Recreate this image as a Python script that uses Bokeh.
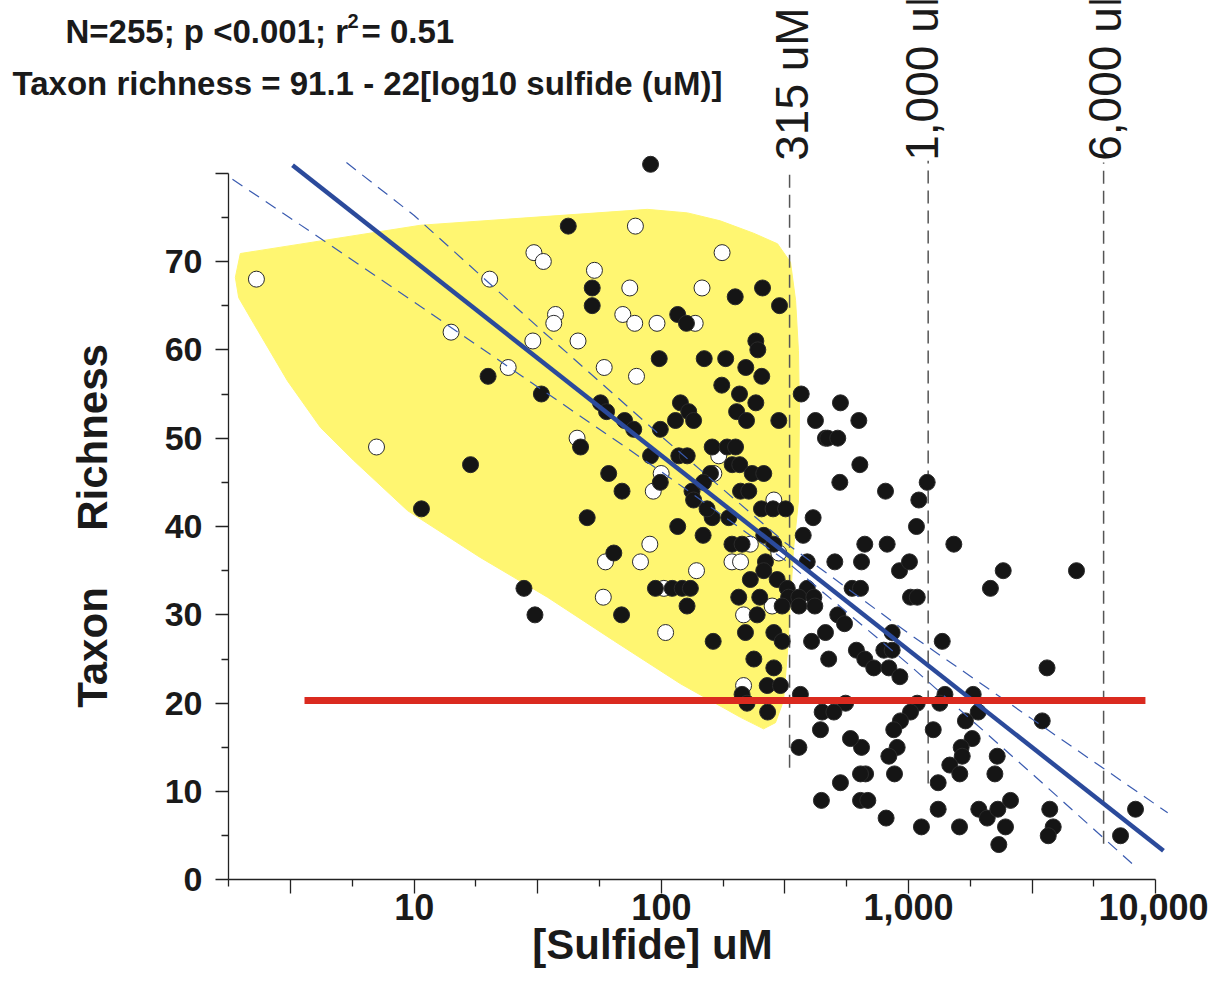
import math
from bokeh.plotting import figure
from bokeh.models import Range1d, FixedTicker, Label
from bokeh.embed import file_html
from bokeh.resources import INLINE

# ---------------- data ----------------
open_sulfide = [2.30, 20.2, 30.5, 33.3, 53.6, 78.5, 74.5, 146, 176, 37.3,
                36.7, 69.8, 78, 96, 137, 30.2, 46, 14.1, 24, 58.7,
                79.3, 7.04, 45.6, 99.8, 92.7, 89.8, 170.6, 163, 285, 229,
                298.5, 193, 209, 138.7, 280.5, 215, 215, 59.4, 82.3, 102.3,
                58.2, 104]
open_richness = [68, 68, 71, 70, 69, 74, 67, 67, 71, 64,
                 63, 64, 63, 63, 63, 61, 61, 62, 58, 58,
                 57, 49, 50, 46, 44, 38, 48, 46, 43, 38,
                 37, 36, 36, 35, 31, 30, 22, 36, 36, 33,
                 32, 28]

filled_sulfide = [90.4, 42, 52.5, 52.5, 116.4, 126.3, 98, 149, 182, 19.9,
                  32.7, 56.7, 60, 119.4, 129, 135, 114, 71, 77.3, 99,
                  160.5, 47.1, 90.4, 117.6, 127.2, 16.9, 61.2, 69.3, 99, 133,
                  135, 158, 148, 160.5, 50.1, 116.4, 147.5, 10.7, 64.2, 198.9,
                  256.5, 300.5, 241, 245.5, 219.5, 254.7, 175.5, 207, 241, 367.8,
                  201.5, 221, 298.5, 420, 184.5, 199.5, 193.4, 207.5, 233, 259.5,
                  209, 225.7, 254, 283, 318, 153, 187.4, 193, 212, 259.5,
                  285, 263.6, 259.5, 229, 294, 389, 389, 323, 327, 94.6,
                  110.6, 121.4, 131, 127, 205.5, 250, 308, 244, 359.8, 413.7,
                  218.8, 285, 308, 162, 405, 236.6, 285, 212, 268, 303,
                  222, 269, 365, 69, 27.8, 30.8, 461, 411, 374.7, 417.5,
                  360, 461, 475, 447, 440, 360, 530, 629, 471, 517,
                  635, 527, 806.5, 1189, 1100, 1076, 1524, 665, 819, 2414,
                  4777, 2143, 919, 1008, 503, 645, 591, 639, 1018, 1084,
                  517, 550.5, 858, 615, 665, 723, 794, 858, 832, 922,
                  1368, 3631, 556, 498.6, 1084, 1403, 1825, 1337, 1912, 1698,
                  1018, 927, 871, 1258, 899, 832, 645, 582, 3472, 1808,
                  1632, 1648, 1468, 1611, 2283, 2234, 1317, 877, 670, 639,
                  530, 444, 639, 684, 811, 1127, 1317, 1607, 1923, 2080,
                  2296, 2584, 2466, 2317, 3724, 3846, 3672, 8279, 7200]
filled_richness = [81, 74, 67, 65, 64, 63, 59, 59, 59, 57,
                   55, 54, 53, 54, 53, 52, 52, 52, 51, 51,
                   49, 49, 48, 48, 48, 47, 46, 44, 45, 44,
                   43, 46, 45, 41, 41, 40, 39, 42, 37, 66,
                   67, 65, 61, 60, 58, 57, 56, 55, 54, 55,
                   53, 52, 52, 52, 49, 49, 47, 47, 46, 46,
                   44, 44, 42, 42, 42, 42, 41, 38, 38, 39,
                   38, 36, 35, 34, 34, 36, 33, 33, 32, 33,
                   33, 33, 33, 31, 32, 32, 31, 30, 32, 32,
                   28, 28, 27, 27, 27, 25, 24, 21, 22, 22,
                   20, 19, 21, 30, 33, 30, 50, 41, 39, 31,
                   31, 28, 25, 19, 17, 15, 54, 52, 50, 50,
                   47, 45, 44, 45, 43, 40, 38, 38, 38, 35,
                   35, 33, 35, 36, 36, 36, 33, 33, 32, 32,
                   30, 29, 28, 26, 25, 24, 26, 26, 24, 23,
                   27, 24, 20, 19, 20, 21, 21, 20, 19, 18,
                   19, 18, 17, 17, 15, 14, 15, 16, 18, 16,
                   15, 14, 13, 12, 14, 12, 11, 12, 12, 12,
                   11, 9, 9, 9, 7, 6, 8, 6, 8, 7,
                   8, 9, 6, 4, 8, 6, 5, 8, 5]

# highlighted (yellow) region outline
hull_sulfide = [1.98, 10.6, 87.8, 127.5, 173, 236, 295, 333, 349, 358.5,
                362, 358.5, 342, 324, 312, 289.5, 259, 209, 119.5, 64.0,
                34.6, 18.5, 9.4, 5.68, 4.18, 3.07, 2.24, 1.95, 1.89]
hull_richness = [70.9, 74.1, 75.9, 75.5, 74.6, 73.2, 72.0, 69.9, 65.6, 59.9,
                 53.1, 42.9, 37.3, 26.0, 20.3, 17.8, 17.1, 18.4, 22.2, 27.1,
                 32.0, 36.5, 41.8, 47.5, 51.2, 56.5, 63.0, 65.9, 68.2]

# regression line and confidence band
fit_sulfide = [3.22, 10740]
fit_richness = [80.9, 3.3]
upper_sulfide = [5.32, 10, 31.6, 100, 316, 1000, 3162, 11170]
upper_richness = [81.2, 75.2, 62.6, 50.2, 38.2, 27.9, 18.2, 7.6]
lower_sulfide = [1.84, 3.16, 10, 31.6, 100, 316, 1000, 3162, 8433]
lower_richness = [79.3, 74.9, 65.4, 55.8, 46.2, 36.2, 24.4, 12.0, 1.3]

# threshold (red) line
threshold_sulfide = [3.6, 9080]
threshold_richness = [20.3, 20.3]

# vertical sulfide markers
marker_sulfide = [330, 1200, 6150]
marker_labels = ["315 uM", "1,000 uM", "6,000 uM"]
marker_top = [80.5, 81.4, 81.2]
marker_bottom = [12.7, 10.9, 4.1]

x_label_values = [10, 100, 1000, 10000]
x_label_texts = ["10", "100", "1,000", "10,000"]
y_label_values = [0, 10, 20, 30, 40, 50, 60, 70]

title_line1 = "N=255; p <0.001; r"
title_sup = "2"
title_line1b = " = 0.51"
title_line2 = "Taxon richness = 91.1 - 22[log10 sulfide (uM)]"
x_title = "[Sulfide] uM"
y_title_parts = ["Taxon", "Richness"]

# ---------------- figure ----------------
FONT = "Liberation Sans"
W, H = 1208, 972
X0 = 10 ** 0.2488          # left end of the sulfide axis
p = figure(width=W, height=H, x_axis_type="log",
           x_range=Range1d(10 ** -0.6735, 10 ** 4.2132),
           y_range=Range1d(-10.48, 99.54),
           output_backend="svg", toolbar_location=None,
           min_border_left=0, min_border_right=0,
           min_border_top=0, min_border_bottom=0)
p.outline_line_color = None
p.xgrid.visible = False
p.ygrid.visible = False
p.background_fill_color = "white"
p.border_fill_color = "white"

# yellow region
p.patch(hull_sulfide, hull_richness, fill_color="#FFF671", line_color="#FFF671",
        line_width=1)

# vertical dashed markers
for xs, yt, yb in zip(marker_sulfide, marker_top, marker_bottom):
    p.line([xs, xs], [yb, yt], line_color="#555555", line_width=1.5,
           line_dash="13 7")

# points
p.scatter(open_sulfide, open_richness, size=16, marker="circle",
          fill_color="white", line_color="#2a2a2a", line_width=1)
p.scatter(filled_sulfide, filled_richness, size=16, marker="circle",
          fill_color="#151515", line_color="#2a2a2a", line_width=1)

# confidence band and regression line
p.line(upper_sulfide, upper_richness, line_color="#3a5bb0", line_width=1.2,
       line_dash="12 8")
p.line(lower_sulfide, lower_richness, line_color="#3a5bb0", line_width=1.2,
       line_dash="12 8")
p.line(fit_sulfide, fit_richness, line_color="#2B4A9B", line_width=4.5)

# threshold line
p.line(threshold_sulfide, threshold_richness, line_color="#DA2A1F", line_width=7)

# ---------------- axes (drawn at fixed data locations) ----------------
x_major = [10 ** 0.5, 10, 10 ** 1.5, 100, 10 ** 2.5, 1000, 10 ** 3.5, 10000]
x_minor = [10 ** 0.25, 10 ** 0.75, 10 ** 1.25, 10 ** 1.75, 10 ** 2.25,
           10 ** 2.75, 10 ** 3.25, 10 ** 3.75]
xa = p.xaxis[0]
xa.fixed_location = 0
xa.ticker = FixedTicker(ticks=x_major, minor_ticks=x_minor)
overrides = {t: "" for t in x_major}
for v, t in zip(x_label_values, x_label_texts):
    overrides[v] = t
xa.major_label_overrides = overrides
xa.bounds = (X0, 10000)
xa.axis_line_color = "#222222"
xa.axis_line_width = 1.3
xa.major_tick_in = 0
xa.major_tick_out = 14
xa.minor_tick_in = 0
xa.minor_tick_out = 7
xa.major_tick_line_color = "#222222"
xa.minor_tick_line_color = "#222222"
xa.major_tick_line_width = 1.3
xa.minor_tick_line_width = 1.3
xa.major_label_text_font = FONT
xa.major_label_text_font_size = "36px"
xa.major_label_text_font_style = "bold"
xa.major_label_text_color = "#1a1a1a"
xa.major_label_standoff = 0

ya = p.yaxis[0]
ya.fixed_location = X0
ya.ticker = FixedTicker(ticks=y_label_values + [80],
                        minor_ticks=[5, 15, 25, 35, 45, 55, 65, 75])
ya.major_label_overrides = {80: ""}
ya.bounds = (0, 80)
ya.axis_line_color = "#222222"
ya.axis_line_width = 1.3
ya.major_tick_in = 0
ya.major_tick_out = 13
ya.minor_tick_in = 0
ya.minor_tick_out = 7
ya.major_tick_line_color = "#222222"
ya.minor_tick_line_color = "#222222"
ya.major_tick_line_width = 1.3
ya.minor_tick_line_width = 1.3
ya.major_label_text_font = FONT
ya.major_label_text_font_size = "34px"
ya.major_label_text_font_style = "bold"
ya.major_label_text_color = "#1a1a1a"
ya.major_label_standoff = 13

# ---------------- texts (screen px) ----------------
def slabel(x, y, text, size, bold=True, angle=0.0, align="left",
           baseline="alphabetic"):
    p.add_layout(Label(x=x, y=H - y, x_units="screen", y_units="screen",
                       text=text, angle=angle, text_align=align,
                       text_baseline=baseline, text_font=FONT,
                       text_font_size=size,
                       text_font_style="bold" if bold else "normal",
                       text_color="#1a1a1a"))

# positions given as (x from left, y from top) of the canvas
slabel(65, 31, title_line1, "33px")
slabel(347, 20, title_sup, "20px")
slabel(361, 31, title_line1b, "33px")
slabel(12, 83, title_line2, "33px")
slabel(652, 944, x_title, "42px", align="center")
slabel(92, 647, y_title_parts[0], "42px", angle=math.pi / 2, align="center")
slabel(92, 437, y_title_parts[1], "42px", angle=math.pi / 2, align="center")

marker_offsets = [2, -6, 1]
for xs, txt, off in zip(marker_sulfide, marker_labels, marker_offsets):
    p.add_layout(Label(x=xs, y=81.4, text=txt, angle=math.pi / 2,
                       x_offset=off, text_align="left",
                       text_baseline="alphabetic", text_font=FONT,
                       text_font_size="46px", text_color="#1a1a1a"))

open("out.html", "w").write(file_html(p, INLINE))
